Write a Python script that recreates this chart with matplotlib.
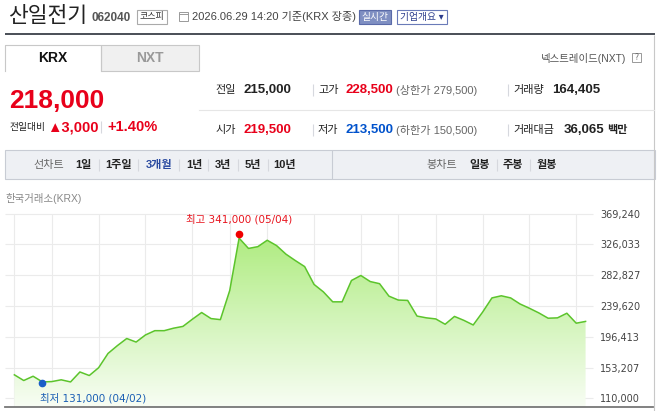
import matplotlib
matplotlib.use("Agg")
import matplotlib.pyplot as plt
import numpy as np
from matplotlib.patches import Rectangle, Polygon
from matplotlib.colors import LinearSegmentedColormap

W, H = 658, 411

KO = ["Liberation Sans", "Noto Sans CJK KR", "DejaVu Sans"]
KO_CHART = ["DejaVu Sans", "Noto Sans CJK KR"]

RED = "#e8001a"
BLUE = "#0052cc"
INK = "#222222"
GRAY = "#666666"

# daily closes, 2026-03-30 .. 2026-06-29 (62 trading days)
CLOSES = [
    143000, 135000, 141000, 133000, 133500, 136000, 133000, 147000, 142000, 153000,
    173000, 184000, 194000, 189000, 199000, 205000, 205000, 208500, 211000, 221000,
    230500, 222000, 220500, 261500, 335000, 320500, 323000, 332000, 324500, 312500,
    303500, 295000, 270000, 259500, 245500, 245500, 275500, 282500, 274000, 271000,
    253500, 248000, 247500, 225500, 223000, 221500, 214000, 225000, 219500, 213000,
    231000, 251000, 254000, 251000, 242500, 236500, 230000, 222500, 223000, 229500,
    215500, 218000,
]
WEEK_END_IDX = [0, 4, 9, 14, 19, 23, 27, 32, 37, 41, 45, 50, 55, 60]
Y_TICKS = [110000, 153207, 196413, 239620, 282827, 326033, 369240]
HIGH = (24, 341000, "최고 341,000 (05/04)")
LOW = (3, 131000, "최저 131,000 (04/02)")

QUOTE_ROWS = [
    [("전일", "215,000", INK, None), ("고가", "228,500", RED, "(상한가 279,500)"), ("거래량", "164,405", INK, None)],
    [("시가", "219,500", RED, None), ("저가", "213,500", BLUE, "(하한가 150,500)"), ("거래대금", "36,065", INK, "백만")],
]
LINE_TABS = ["1일", "1주일", "3개월", "1년", "3년", "5년", "10년"]
CANDLE_TABS = ["일봉", "주봉", "월봉"]


def txt(ax, x, y, s, size, color=INK, weight="normal", ha="left", family=KO):
    ax.text(x, y, s, fontsize=size, color=color, fontweight=weight, ha=ha, va="center", family=family)


def rect(ax, x0, y0, x1, y1, fc="none", ec="none", lw=0.8):
    ax.add_patch(Rectangle((x0, y0), x1 - x0, y1 - y0, facecolor=fc, edgecolor=ec, linewidth=lw))


def vline(ax, x, y0, y1, color="#d6d8de", lw=0.8):
    ax.plot([x, x], [y0, y1], color=color, lw=lw, solid_capstyle="butt")


def draw_page(bg):
    # header
    txt(bg, 8, 16, "산일전기", 15.5, "#222222")
    txt(bg, 91, 18, "062040", 8.5, "#555555", "bold")
    rect(bg, 137, 10, 167, 24, fc="white", ec="#aaaaaa")
    txt(bg, 152, 17, "코스피", 6.5, "#333333", ha="center")
    rect(bg, 179, 12, 188, 21, ec="#999999", lw=0.7)
    bg.plot([179, 188], [14.5, 14.5], color="#999999", lw=0.7)
    txt(bg, 192, 17, "2026.06.29 14:20 기준(KRX 장종)", 8, "#444444")
    rect(bg, 359, 10, 391, 24, fc="#7f8fc2", ec="#5a6aa8")
    txt(bg, 375, 17, "실시간", 7, "white", ha="center")
    rect(bg, 397, 10, 447, 24, fc="white", ec="#6a7bb8")
    txt(bg, 422, 17, "기업개요 ▾", 7, "#2b3c8c", ha="center")
    rect(bg, 5, 33, 655, 35, fc="#4d525a")
    vline(bg, 654, 35, 411, color="#c8c8c8")

    # market tabs
    rect(bg, 101, 45, 199, 71, fc="#f0f0f0", ec="#c8c8c8")
    bg.plot([5, 5, 101, 101], [71, 45, 45, 71], color="#c8c8c8", lw=0.8)
    txt(bg, 53, 58, "KRX", 10, "#111111", "bold", ha="center")
    txt(bg, 150, 58, "NXT", 10, "#999999", "bold", ha="center")
    txt(bg, 626, 58, "넥스트레이드(NXT)", 7.5, "#555555", ha="right")
    rect(bg, 632, 53, 641, 62, fc="white", ec="#999999", lw=0.7)
    txt(bg, 636.5, 57.5, "?", 5.5, "#666666", ha="center", family=["DejaVu Sans"])

    # current price
    txt(bg, 9, 101, "218,000", 19, RED, "bold")
    txt(bg, 10, 127, "전일대비", 7, INK)
    txt(bg, 47, 127, "▲3,000", 10.5, RED, "bold")
    vline(bg, 101, 121, 133)
    txt(bg, 107, 127, "+1.40%", 10.5, RED, "bold")

    # quote table
    bg.plot([199, 654], [110, 110], color="#e6e6e6", lw=0.8)
    cols = [215, 318, 513]
    for r, row in enumerate(QUOTE_ROWS):
        y = 90 + 40 * r
        for c, (label, value, color, extra) in enumerate(row):
            x = cols[c]
            if c > 0:
                vline(bg, x - 5, y - 6, y + 6)
            txt(bg, x, y, label, 8, INK)
            vx = x + (28 if len(label) == 2 else (39 if len(label) == 3 else 51))
            txt(bg, vx, y, value, 9.5, color, "bold")
            if extra and c == 1:
                txt(bg, vx + 50, y, extra, 8, GRAY)
            elif extra:
                txt(bg, vx + 43, y, extra, 8, INK, "bold")

    # period tab bar
    rect(bg, 5, 150, 655, 179, fc="#eef0f4", ec="#c8ccd4")
    vline(bg, 332, 150, 179, color="#c8ccd4")
    txt(bg, 49, 165, "선차트", 8, GRAY, ha="center")
    line_x = [83, 119, 159, 194, 223, 253, 285]
    for lab, x in zip(LINE_TABS, line_x):
        txt(bg, x, 165, lab, 8, "#2a4aa0" if lab == "3개월" else INK, "bold", ha="center")
    for x in [99, 138, 179, 208, 238, 268]:
        vline(bg, x, 159, 171)
    txt(bg, 442, 165, "봉차트", 8, GRAY, ha="center")
    for lab, x in zip(CANDLE_TABS, [480, 513, 547]):
        txt(bg, x, 165, lab, 8, INK, "bold", ha="center")
    for x in [497, 530]:
        vline(bg, x, 159, 171)

    txt(bg, 5, 198, "한국거래소(KRX)", 7.5, "#888888")


def draw_chart(ax):
    x = np.arange(len(CLOSES))
    y = np.array(CLOSES)
    ybot, ytop = 97800, 381500
    xmin, xmax = -1.0, 68.2

    ax.hlines(Y_TICKS, xmin, 61.8, color="#ebebeb", lw=0.8, zorder=0)
    ax.vlines(WEEK_END_IDX, ybot, Y_TICKS[-1], color="#ebebeb", lw=0.8, zorder=0)

    cmap = LinearSegmentedColormap.from_list("fill", ["#f8fdf4", "#d4f5bc", "#b0ec82"])
    poly = Polygon(np.vstack([[x[0], ybot], np.column_stack([x, y]), [x[-1], ybot]]),
                   closed=True, facecolor="none", edgecolor="none")
    ax.add_patch(poly)
    grad = np.linspace(0, 1, 256).reshape(-1, 1)
    im = ax.imshow(grad, cmap=cmap, aspect="auto", origin="lower",
                   extent=[x[0], x[-1], ybot, y.max()], zorder=1)
    im.set_clip_path(poly)
    ax.plot(x, y, color="#5cc42c", lw=1.1, zorder=2)

    hx, hv, hlab = HIGH
    ax.plot(hx, hv, "o", color="#f00000", ms=4.5, zorder=3)
    ax.annotate(hlab, (hx, hv), xytext=(0, 10.5), textcoords="offset points",
                ha="center", va="center", fontsize=7.5, color="#e8141e", family=KO_CHART)
    lx, lv, llab = LOW
    ax.plot(lx, lv, "o", color="#1a5fc8", ms=4.5, zorder=3)
    ax.annotate(llab, (lx, lv), xytext=(-2, -11), textcoords="offset points",
                ha="left", va="center", fontsize=7.5, color="#1a5fb4", family=KO_CHART)

    ax.set_xlim(xmin, xmax)
    ax.set_ylim(ybot, ytop)
    ax.set_xticks([])
    ax.yaxis.tick_right()
    ax.set_yticks(Y_TICKS)
    ax.set_yticklabels([f"{v:,}" for v in Y_TICKS], family="DejaVu Sans", fontsize=7, color="#444444")
    ax.tick_params(axis="y", length=0, pad=-38)
    for lab in ax.get_yticklabels():
        lab.set_ha("left")
    for side in ("top", "left", "right"):
        ax.spines[side].set_visible(False)
    ax.spines["bottom"].set_color("#777777")
    ax.spines["bottom"].set_linewidth(1.3)
    ax.set_facecolor("none")


def main() -> None:
    fig = plt.figure(figsize=(W / 100, H / 100), dpi=100)
    bg = fig.add_axes([0, 0, 1, 1])
    bg.set_xlim(0, W)
    bg.set_ylim(H, 0)
    bg.set_axis_off()
    draw_page(bg)

    ax = fig.add_axes([5 / W, (H - 407) / H, 648 / W, (407 - 205) / H])
    draw_chart(ax)

    fig.savefig("out.png", dpi=100, facecolor="white")
    plt.close(fig)


if __name__ == "__main__":
    main()
